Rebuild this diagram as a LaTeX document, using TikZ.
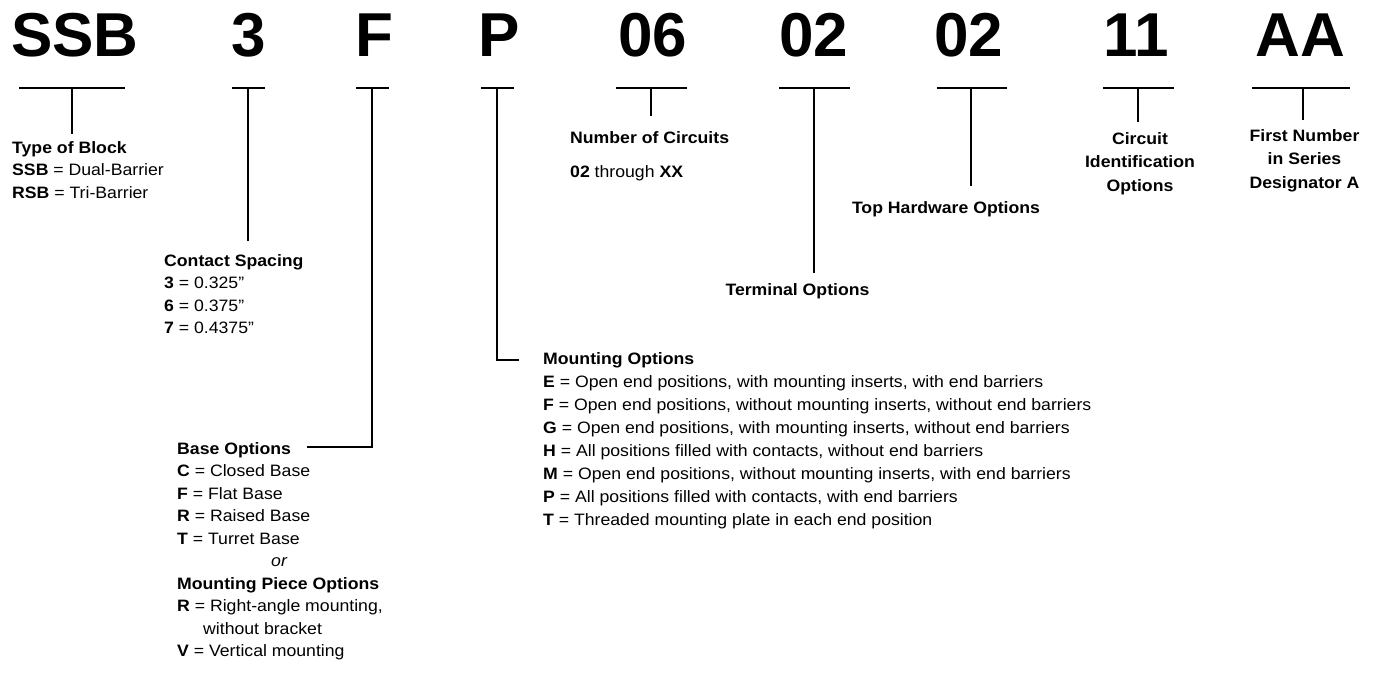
\documentclass[tikz,border=0pt]{standalone}
\usepackage{fontspec}
\setmainfont{Liberation Sans}
\newfontfamily\widesans[FakeStretch=1.07]{Liberation Sans}
\begin{document}
\begin{tikzpicture}[x=1pt,y=-1pt,
  big/.style={font=\fontsize{62}{62}\selectfont\bfseries, inner sep=0pt, anchor=base},
  brk/.style={line width=2pt},
  lbl/.style={font=\widesans\fontsize{16.5}{22.5}\selectfont, inner sep=0pt, align=left, anchor=north west},
  hdr/.style={font=\widesans\fontsize{16.5}{23.5}\selectfont\bfseries, inner sep=0pt, align=center, anchor=north}]
\useasboundingbox (0,0) rectangle (1377,675);
% big code letters
\node[big] (cSSB) at (75,56) {SSB};
\node[big] (c3) at (249,56) {3};
\node[big] (cF) at (374,56) {F};
\node[big] (cP) at (499,56) {P};
\node[big] (c06) at (653,56) {06};
\node[big] (c02a) at (814,56) {02};
\node[big] (c02b) at (969,56) {02};
\node[big] (c11) at (1136,56) {11};
\node[big] (cAA) at (1300,56) {AA};
% labels
\node[lbl] (lType) at (12,141) {\textbf{Type of Block}\\\textbf{SSB} = Dual-Barrier\\\textbf{RSB} = Tri-Barrier};
\node[lbl] (lCont) at (164,254) {\textbf{Contact Spacing}\\\textbf{3} = 0.325”\\\textbf{6} = 0.375”\\\textbf{7} = 0.4375”};
\node[lbl] (lBase) at (177,442) {\textbf{Base Options}\\\textbf{C} = Closed Base\\\textbf{F} = Flat Base\\\textbf{R} = Raised Base\\\textbf{T} = Turret Base\\\hspace*{94pt}\textit{or}\\\textbf{Mounting Piece Options}\\\textbf{R} = Right-angle mounting,\\\hspace*{26pt}without bracket\\\textbf{V} = Vertical mounting};
\node[lbl, font=\widesans\fontsize{16.5}{23}\selectfont] (lMount) at (543,352) {\textbf{Mounting Options}\\\textbf{E} = Open end positions, with mounting inserts, with end barriers\\\textbf{F} = Open end positions, without mounting inserts, without end barriers\\\textbf{G} = Open end positions, with mounting inserts, without end barriers\\\textbf{H} = All positions filled with contacts, without end barriers\\\textbf{M} = Open end positions, without mounting inserts, with end barriers\\\textbf{P} = All positions filled with contacts, with end barriers\\\textbf{T} = Threaded mounting plate in each end position};
\node[lbl] (lNum) at (570,131) {\textbf{Number of Circuits}\\[12pt]\textbf{02} through \textbf{XX}};
\node[hdr] (lTerm) at (797.5,283) {Terminal Options};
\node[hdr] (lTop) at (946,201) {Top Hardware Options};
\node[hdr] (lCirc) at (1140,132) {Circuit\\Identification\\Options};
\node[hdr] (lFirst) at (1304.5,129) {First Number\\in Series\\Designator A};
% bracket coordinates
\coordinate (a1) at (19,88);   \coordinate (a2) at (125,88);  \coordinate (am) at (72,88);   \coordinate (ae) at (72,134);
\coordinate (b1) at (232,88);  \coordinate (b2) at (265,88);  \coordinate (bm) at (248,88);  \coordinate (be) at (248,241);
\coordinate (f1) at (356,88);  \coordinate (f2) at (389,88);  \coordinate (fm) at (372,88);  \coordinate (fc) at (372,447); \coordinate (fe) at (307,447);
\coordinate (p1) at (481,88);  \coordinate (p2) at (514,88);  \coordinate (pm) at (497,88);  \coordinate (pc) at (497,360); \coordinate (pe) at (519,360);
\coordinate (n1) at (616,88);  \coordinate (n2) at (687,88);  \coordinate (nm) at (651,88);  \coordinate (ne) at (651,116);
\coordinate (t1) at (779,88);  \coordinate (t2) at (850,88);  \coordinate (tm) at (814,88);  \coordinate (te) at (814,273);
\coordinate (h1) at (937,88);  \coordinate (h2) at (1007,88); \coordinate (hm) at (971,88);  \coordinate (he) at (971,186);
\coordinate (i1) at (1103,88); \coordinate (i2) at (1174,88); \coordinate (im) at (1138,88); \coordinate (ie) at (1138,122);
\coordinate (s1) at (1252,88); \coordinate (s2) at (1350,88); \coordinate (sm) at (1303,88); \coordinate (se) at (1303,120);
% brackets
\draw[brk] (a1) -- (a2); \draw[brk] (am) -- (ae);
\draw[brk] (b1) -- (b2); \draw[brk] (bm) -- (be);
\draw[brk] (f1) -- (f2); \draw[brk] (fm) -- (fc) -- (fe);
\draw[brk] (p1) -- (p2); \draw[brk] (pm) -- (pc) -- (pe);
\draw[brk] (n1) -- (n2); \draw[brk] (nm) -- (ne);
\draw[brk] (t1) -- (t2); \draw[brk] (tm) -- (te);
\draw[brk] (h1) -- (h2); \draw[brk] (hm) -- (he);
\draw[brk] (i1) -- (i2); \draw[brk] (im) -- (ie);
\draw[brk] (s1) -- (s2); \draw[brk] (sm) -- (se);
\end{tikzpicture}
\end{document}
